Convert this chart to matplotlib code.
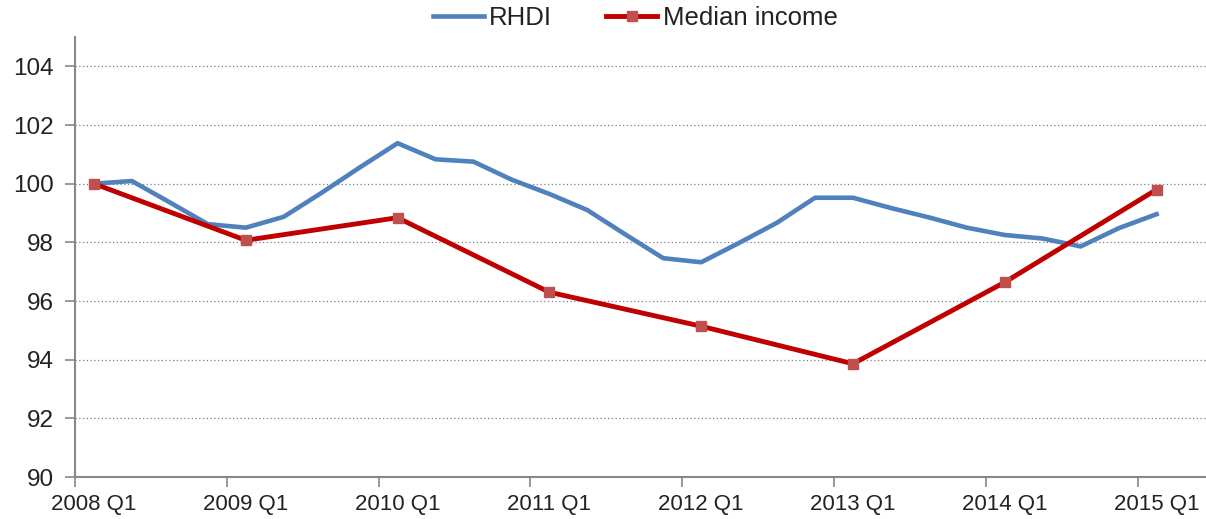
import matplotlib
matplotlib.use("Agg")
import matplotlib.pyplot as plt
import numpy as np

plt.rcParams['font.family'] = ['Liberation Sans', 'DejaVu Sans']

quarters = [f"{y} Q{q}" for y in range(2008, 2016) for q in range(1, 5)][:29]

rhdi = [100.0, 100.09, 99.36, 98.62, 98.50, 98.87, 99.69, 100.55, 101.38,
        100.83, 100.75, 100.14, 99.65, 99.10, 98.27, 97.46, 97.32, 97.98,
        98.67, 99.52, 99.52, 99.17, 98.85, 98.50, 98.25, 98.13, 97.86,
        98.48, 98.96]
median_quarters = ["2008 Q1", "2009 Q1", "2010 Q1", "2011 Q1", "2012 Q1",
                   "2013 Q1", "2014 Q1", "2015 Q1"]
median_income = [100.0, 98.07, 98.84, 96.30, 95.14, 93.86, 96.64, 99.80]

tick_labels = ["2008 Q1", "2009 Q1", "2010 Q1", "2011 Q1", "2012 Q1",
               "2013 Q1", "2014 Q1", "2015 Q1"]

fig = plt.figure(figsize=(12.06, 5.19), dpi=100)
ax = fig.add_axes([75/1206, 42/519, 1131/1206, 440/519])

x_rhdi = np.arange(len(rhdi))
x_med = [quarters.index(q) for q in median_quarters]

ax.plot(x_rhdi, rhdi, color='#4F81BD', lw=3.3, label='RHDI',
        solid_joinstyle='round', zorder=3)
ax.plot(x_med, median_income, color='#C00000', lw=3.5, marker='s',
        markersize=7.5, markerfacecolor='#C0504D', markeredgecolor='#C0504D',
        label='Median income', zorder=4)

ax.set_xlim(-0.5, -0.5 + 1131/37.95)
ax.set_ylim(90, 105)
ax.set_yticks(np.arange(90, 105, 2))

tick_pos = [quarters.index(t) for t in tick_labels]
ax.set_xticks([p - 0.5 for p in tick_pos])
ax.set_xticklabels([])
ax.set_xticks(tick_pos, minor=True)
ax.set_xticklabels(tick_labels, minor=True)
ax.tick_params(axis='x', which='major', length=7, width=1.2, color='#888888', direction='out')
ax.tick_params(axis='x', which='minor', length=0, pad=12, labelsize=16, labelcolor='#222222')
ax.tick_params(axis='y', length=7, width=1.2, color='#888888', pad=8, labelsize=17.5, labelcolor='#222222')

ax.grid(axis='y', which='major', linestyle=(0, (1, 2)), color='#808080', lw=0.9)
ax.set_axisbelow(True)
for s in ['top', 'right']:
    ax.spines[s].set_visible(False)
for s in ['left', 'bottom']:
    ax.spines[s].set_color('#888888')
    ax.spines[s].set_linewidth(1.5)

leg = fig.legend(loc='center', bbox_to_anchor=(635/1206, 1 - 18/519), ncol=2,
                 frameon=False, fontsize=18.5, handlelength=2.0, handletextpad=0.2,
                 columnspacing=2.1, borderpad=0)
for t in leg.get_texts():
    t.set_color('#222222')

fig.savefig('out.png', dpi=100)
